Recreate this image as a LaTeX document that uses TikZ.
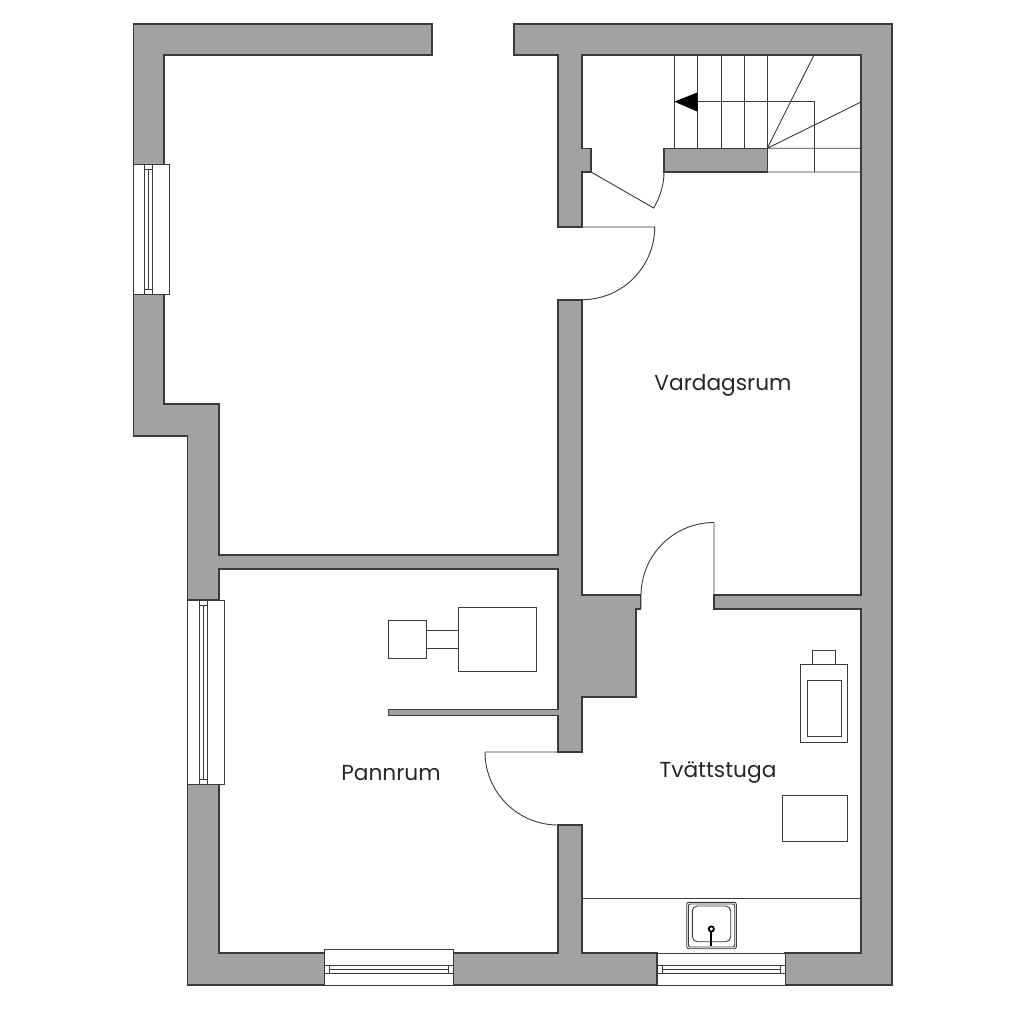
\documentclass[tikz,border=0pt]{standalone}
\usepackage{fontspec}
\setmainfont{Poppins}
\definecolor{wallgrey}{HTML}{A2A2A2}
\definecolor{inkline}{HTML}{3A3A3A}
\tikzset{
  wall/.style={fill=wallgrey,draw=inkline,line width=1.1pt,line join=miter},
  fine/.style={draw=inkline,line width=0.9pt},
  glass/.style={draw=inkline,line width=1pt,fill=white},
  roomlabel/.style={font=\fontsize{21.7}{26}\selectfont,text=black!85,inner sep=0pt}
}
\begin{document}
\begin{tikzpicture}[x=1pt,y=-1pt]
\useasboundingbox (0,0) rectangle (1024,1024);
% walls
\draw[wall] (432,24)--(133.5,24)--(133.5,165)--(164,165)--(164,55)--(432,55)--cycle;
\draw[wall] (514,24)--(892,24)--(892,985)--(785,985)--(785,953)--(861,953)--(861,609)--(714,609)--(714,595)--(861,595)--(861,55)--(582,55)--(582,148.3)--(591,148.3)--(591,172)--(582,172)--(582,227)--(558,227)--(558,55)--(514,55)--cycle;
\draw[wall] (133.5,294)--(164,294)--(164,404)--(219,404)--(219,555)--(558,555)--(558,300)--(582,300)--(582,595)--(640.7,595)--(640.7,609)--(636,609)--(636,697)--(582,697)--(582,752)--(558,752)--(558,715.5)--(388.5,715.5)--(388.5,709.5)--(558,709.5)--(558,569)--(219,569)--(219,600)--(187.5,600)--(187.5,436)--(133.5,436)--cycle;
\draw[wall] (187.5,784)--(219,784)--(219,953)--(324.5,953)--(324.5,985)--(187.5,985)--cycle;
\draw[wall] (453.5,985)--(453.5,953)--(558,953)--(558,825)--(582,825)--(582,953)--(657,953)--(657,985)--cycle;
\draw[wall] (664,148.3) rectangle (767.3,172);
% window west upper
\draw[glass] (133.5,165) rectangle (169,294);
\draw[fine] (144.3,165)--(144.3,294) (148.3,169)--(148.3,289.5) (152.7,165)--(152.7,294) (144.3,169)--(152.7,169) (144.3,289.5)--(152.7,289.5);
% window west lower
\draw[glass] (187.5,600) rectangle (224,784);
\draw[fine] (199,600)--(199,784) (203,605)--(203,779.5) (207.3,600)--(207.3,784) (199,605)--(207.3,605) (199,779.5)--(207.3,779.5);
% window south left
\draw[glass] (324.5,949) rectangle (453.5,985);
\draw[fine] (324.5,965.7)--(453.5,965.7) (329,969.5)--(448.5,969.5) (324.5,973.5)--(453.5,973.5) (329,965.7)--(329,973.5) (448.5,965.7)--(448.5,973.5);
% window south right
\draw[glass] (657,953) rectangle (785,985);
\draw[fine] (657,965.7)--(785,965.7) (662,969.5)--(780,969.5) (657,973.5)--(785,973.5) (662,965.7)--(662,973.5) (780,965.7)--(780,973.5);
% stairs
\draw[fine] (674.3,55)--(674.3,148.3) (697.7,55)--(697.7,148.3) (721,55)--(721,148.3) (744.3,55)--(744.3,148.3) (767.3,55)--(767.3,148.3);
\draw[fine] (697.7,101.7)--(814,101.7)--(814,172);
\draw[fine] (767.3,148.3)--(814,55) (767.3,148.3)--(861,102) (767.3,148.3)--(861,148.3) (767.3,172)--(861,172);
\fill[black] (674.3,101.7)--(697.7,92.3)--(697.7,111.7)--cycle;
% doors
\draw[fine] (591,172)--(653.7,208) .. controls (660,197) and (664,185) .. (664,172);
\draw[fine] (558,227)--(654.7,227) arc[start angle=0,end angle=90,radius=72.7];
\draw[fine] (714,609)--(714,522.5) arc[start angle=-90,end angle=-180,radius=73]--(641,609);
\draw[fine] (558,752)--(485,752) arc[start angle=180,end angle=90,radius=73];
% boiler
\draw[fine] (388.7,620.7) rectangle (426.7,658.3);
\draw[fine] (458.3,607.3) rectangle (536.3,671.7);
\draw[fine] (426.7,630.7)--(458.3,630.7) (426.7,648.7)--(458.3,648.7);
% laundry
\draw[fine] (800.7,664) rectangle (847,742.7);
\draw[fine] (807.3,680) rectangle (841,736.3);
\draw[fine] (812.3,650.7) rectangle (835.3,664);
\draw[fine] (782,795) rectangle (847,841);
\draw[draw=inkline,line width=0.7pt] (582,898.3)--(861,898.3);
% sink
\draw[fine,rounded corners=2pt] (686.7,902.3) rectangle (736.3,948.7);
\draw[fine,rounded corners=2pt] (688.3,904) rectangle (734.7,947);
\draw[fine,rounded corners=5pt] (692.3,906) rectangle (730.7,941.7);
\draw[draw=black,line width=1.8pt] (711.3,929) circle[radius=2.6];
\draw[draw=black,line width=1.8pt] (711.3,932)--(711.3,946);
% labels
\node[roomlabel] (vardagsrum) at (723,385.5) {Vardagsrum};
\node[roomlabel] (pannrum) at (391,773) {Pannrum};
\node[roomlabel] (tvattstuga) at (718,773) {Tvättstuga};
\end{tikzpicture}
\end{document}
